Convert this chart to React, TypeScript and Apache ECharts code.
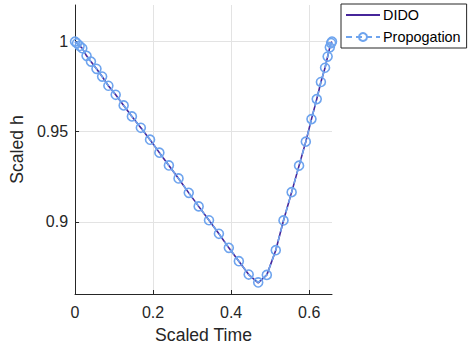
import React, { useEffect, useRef } from "react";
import * as echarts from "echarts";

// Scaled time nodes shared by both solutions
const scaledTime = [
  0, 0.005, 0.0117, 0.0186, 0.0295, 0.0407, 0.0549, 0.0694, 0.0854, 0.1042,
  0.1246, 0.1457, 0.1686, 0.1922, 0.2161, 0.2405, 0.2652, 0.2914, 0.3168,
  0.3433, 0.3687, 0.3941, 0.4198, 0.445, 0.4694, 0.4915, 0.5144, 0.5342,
  0.5551, 0.5741, 0.5914, 0.6059, 0.6194, 0.6301, 0.6407, 0.6473, 0.6529,
  0.6562, 0.6585,
];

// Scaled altitude from the optimal-control solver (DIDO)
const didoH = [
  1.0, 0.9991, 0.9976, 0.9963, 0.9921, 0.9889, 0.9849, 0.9806, 0.9755, 0.9705,
  0.9646, 0.9585, 0.9522, 0.9456, 0.9384, 0.9313, 0.9241, 0.9161, 0.9086,
  0.9009, 0.8934, 0.8856, 0.8782, 0.8708, 0.8662, 0.8706, 0.8843, 0.9008,
  0.9165, 0.9312, 0.9445, 0.957, 0.9681, 0.9776, 0.9855, 0.9917, 0.9968,
  0.9992, 1.0,
];

// Scaled altitude from propagating the controls
const propH = [
  1.0, 0.9991, 0.9976, 0.9963, 0.9921, 0.9889, 0.9849, 0.9806, 0.9755, 0.9705,
  0.9646, 0.9585, 0.9522, 0.9456, 0.9384, 0.9313, 0.9241, 0.9161, 0.9086,
  0.9009, 0.8934, 0.8856, 0.8782, 0.8708, 0.8664, 0.8706, 0.8843, 0.9008,
  0.9165, 0.9312, 0.9445, 0.957, 0.9681, 0.9776, 0.9855, 0.9917, 0.9968,
  0.9992, 1.0,
];

const xTicks = [0, 0.2, 0.4, 0.6];
const yTicks = [0.9, 0.95, 1];

const FONT = "'Liberation Sans', Arial, Helvetica, sans-serif";
const TEXT = "#262626";
const DIDO_COLOR = "#46259a";
const PROP_COLOR = "#6ea4ee";

export default function App() {
  const ref = useRef<HTMLDivElement>(null);

  useEffect(() => {
    if (!ref.current) return;
    const chart = echarts.init(ref.current, undefined, { renderer: "svg" });
    const pair = (ys: number[]) => scaledTime.map((t, i) => [t, ys[i]]);

    chart.setOption({
      animation: false,
      backgroundColor: "#ffffff",
      textStyle: { fontFamily: FONT, color: TEXT },
      grid: { left: 73, top: 5, right: 136, bottom: 55, containLabel: false },
      legend: {
        orient: "vertical",
        left: 341,
        top: 4,
        width: 126,
        padding: [4, 6, 4, 4],
        itemWidth: 34,
        itemHeight: 10,
        itemGap: 8,
        borderColor: "#262626",
        borderWidth: 1,
        backgroundColor: "#ffffff",
        textStyle: { fontFamily: FONT, fontSize: 14.4, color: "#000000", padding: [0, 0, 0, -2] },
        data: [
          { name: "DIDO", itemStyle: { opacity: 0 } },
          { name: "Propogation" },
        ],
      },
      xAxis: {
        type: "value",
        min: 0,
        max: 0.6585,
        name: "Scaled Time",
        nameLocation: "middle",
        nameGap: 32,
        nameTextStyle: { fontFamily: FONT, fontSize: 17.6, color: TEXT },
        axisLine: { show: true, lineStyle: { color: TEXT, width: 1 } },
        axisTick: { show: true, inside: true, length: 4, customValues: xTicks, lineStyle: { color: TEXT } },
        axisLabel: { customValues: xTicks, margin: 10, fontFamily: FONT, fontSize: 16, color: TEXT },
        splitLine: { show: true, lineStyle: { color: "#e3e3e3", width: 1 } },
      },
      yAxis: {
        type: "value",
        min: 0.86,
        max: 1.0203,
        name: "Scaled h",
        nameLocation: "middle",
        nameGap: 34,
        nameTextStyle: { fontFamily: FONT, fontSize: 17.6, color: TEXT },
        axisLine: { show: true, lineStyle: { color: TEXT, width: 1 } },
        axisTick: { show: true, inside: true, length: 4, customValues: yTicks, lineStyle: { color: TEXT } },
        axisLabel: {
          customValues: yTicks,
          margin: 7,
          fontFamily: FONT,
          fontSize: 16,
          color: TEXT,
          formatter: (v: number) => String(Number(v.toFixed(2))),
        },
        splitLine: { show: true, lineStyle: { color: "#e3e3e3", width: 1 } },
      },
      series: [
        {
          name: "DIDO",
          type: "line",
          data: pair(didoH),
          symbol: "none",
          lineStyle: { color: DIDO_COLOR, width: 1.6 },
          itemStyle: { color: DIDO_COLOR },
          z: 2,
        },
        {
          name: "Propogation",
          type: "line",
          data: pair(propH),
          symbol: "circle",
          symbolSize: 9,
          lineStyle: { color: PROP_COLOR, width: 1.6, type: [6, 4] },
          itemStyle: { color: "rgba(255,255,255,0)", borderColor: PROP_COLOR, borderWidth: 1.6 },
          z: 3,
        },
      ],
    });
    return () => chart.dispose();
  }, []);

  return (
    <div
      ref={ref}
      style={{ position: "fixed", left: 0, top: 0, width: 468, height: 349 }}
    />
  );
}
